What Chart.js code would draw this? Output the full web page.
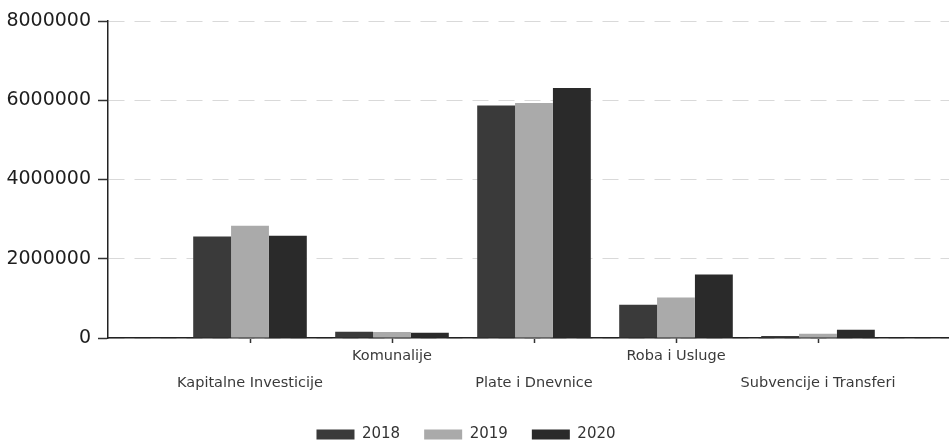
<!DOCTYPE html>
<html><head><meta charset="utf-8">
<script src="https://cdn.jsdelivr.net/npm/chart.js@4/dist/chart.umd.min.js"></script>
<style>
html,body{margin:0;padding:0;background:#fff;overflow:hidden;}
#wrap{position:relative;width:949px;height:445px;overflow:hidden;background:#fff;}
#c{position:absolute;left:0;top:0;}
</style></head><body>
<div id="wrap"><canvas id="c" width="960" height="452"></canvas></div>
<script>
const categories = ['Kapitalne Investicije', 'Komunalije', 'Plate i Dnevnice', 'Roba i Usluge', 'Subvencije i Transferi'];
const seriesNames = ['2018', '2019', '2020'];
const values2018 = [2560000, 160000, 5870000, 840000, 50000];
const values2019 = [2830000, 150000, 5930000, 1020000, 110000];
const values2020 = [2580000, 130000, 6310000, 1600000, 210000];
const yTicks = [0, 2000000, 4000000, 6000000, 8000000];
const colors = ['#3a3a3a', '#aaaaaa', '#2a2a2a'];

// category slots: an empty slot at each end so groups sit on integer positions from the axis
const xLabels = [''].concat(categories.map((c, i) => i % 2 ? [c, ''] : ['', c])).concat(['']);
const pad = arr => [null].concat(arr).concat([null]);
const allValues = [values2018, values2019, values2020];

Chart.defaults.font.family = '"DejaVu Sans", sans-serif';
Chart.defaults.color = '#333';

new Chart(document.getElementById('c'), {
  type: 'bar',
  data: {
    labels: xLabels,
    datasets: seriesNames.map((n, i) => ({
      label: n,
      data: pad(allValues[i]),
      backgroundColor: colors[i],
      borderWidth: 0,
      categoryPercentage: 0.8,
      barPercentage: 1.0
    }))
  },
  options: {
    responsive: false,
    animation: false,
    devicePixelRatio: 1,
    layout: { padding: { left: -28, top: 21, right: 0, bottom: 0 } },
    plugins: {
      tooltip: { enabled: false },
      legend: {
        position: 'bottom',
        labels: {
          boxWidth: 38, boxHeight: 10, padding: 24,
          color: '#333',
          font: { size: 15, family: '"DejaVu Sans", sans-serif' }
        }
      }
    },
    scales: {
      x: {
        type: 'category',
        offset: false,
        afterFit: s => { s.height = 65; },
        grid: {
          offset: false,
          drawOnChartArea: false,
          tickLength: 5,
          tickWidth: 1.5,
          tickColor: ctx => (ctx.index === 0 || ctx.index === xLabels.length - 1) ? 'rgba(0,0,0,0)' : '#333'
        },
        border: { color: '#222', width: 1.5 },
        ticks: {
          autoSkip: false, maxRotation: 0, minRotation: 0, padding: 0,
          color: '#3a3a3a',
          font: { size: 14.5, lineHeight: '27px' }
        }
      },
      y: {
        min: 0, max: 8000000,
        afterFit: s => { s.width = 136; },
        afterBuildTicks: s => { s.ticks = yTicks.map(v => ({ value: v })); },
        grid: {
          color: '#d9d9d9',
          lineWidth: 1,
          tickLength: 10,
          tickColor: '#333',
          tickWidth: 1.5
        },
        border: { color: '#222', width: 1.5, dash: [16, 10] },
        ticks: {
          padding: 7,
          color: '#1e1e1e',
          font: { size: 19 },
          callback: v => String(v)
        }
      }
    }
  }
});
</script>
</body></html>
